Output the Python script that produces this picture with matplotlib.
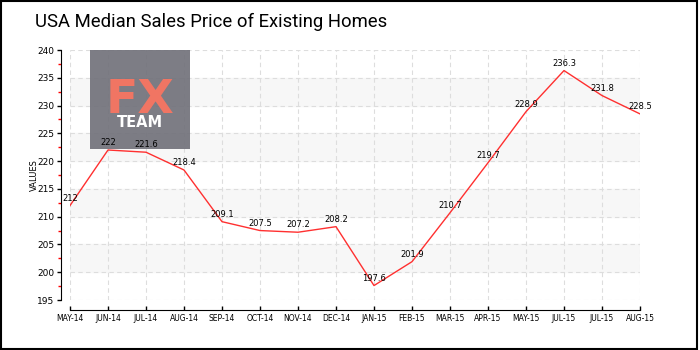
import matplotlib.pyplot as plt
import matplotlib.patches as patches
from matplotlib.ticker import MultipleLocator

# dados
meses = ["MAY-14", "JUN-14", "JUL-14", "AUG-14", "SEP-14", "OCT-14", "NOV-14", "DEC-14",
         "JAN-15", "FEB-15", "MAR-15", "APR-15", "MAY-15", "JUL-15", "JUL-15", "AUG-15"]
precos = [212, 222, 221.6, 218.4, 209.1, 207.5, 207.2, 208.2,
          197.6, 201.9, 210.7, 219.7, 228.9, 236.3, 231.8, 228.5]
faixas = [200, 210, 220, 230]

fig = plt.figure(figsize=(7, 3.5), dpi=100)
ax = fig.add_axes([70 / 700, 1 - 300 / 350, 570 / 700, 250 / 350])

x = list(range(len(meses)))

# faixas cinza claro
for f in faixas:
    ax.axhspan(f, f + 5, color='#f7f7f7', zorder=0)

ax.plot(x, precos, color='#ff3030', linewidth=1, zorder=3)
for xi, v in zip(x, precos):
    ax.annotate(f"{v:g}", (xi, v), xytext=(0, 2), textcoords='offset points',
                ha='center', va='bottom', fontsize=6, zorder=4)

ax.set_xlim(0, len(meses) - 1)
ax.set_ylim(195, 240)
ax.set_xticks(x)
ax.set_xticklabels(meses)
ax.yaxis.set_major_locator(MultipleLocator(5))
ax.yaxis.set_minor_locator(MultipleLocator(2.5))
ax.tick_params(axis='y', labelsize=6.5, length=3, width=1, pad=2)
ax.tick_params(axis='y', which='minor', length=2.5, color='red', width=1)
ax.tick_params(axis='x', labelsize=5.5, length=3, width=1, direction='in', pad=3)
ax.set_ylabel("VALUES", fontsize=6)
ax.yaxis.set_label_coords(-0.055, 0.5)

ax.grid(True, color='#dddddd', linestyle=(0, (4, 3)), linewidth=0.8)
ax.set_axisbelow(True)

ax.spines['top'].set_visible(False)
ax.spines['right'].set_visible(False)
ax.spines['left'].set_position(('outward', 6.5))
ax.spines['bottom'].set_position(('outward', 7))

# logo FX TEAM (semi transparente, atras da linha)
logo = patches.Rectangle((90 / 700, 1 - 149 / 350), 100 / 700, 99 / 350,
                         transform=fig.transFigure, facecolor='#6f6f78', alpha=0.9,
                         edgecolor='none', zorder=2, clip_on=False)
ax.add_patch(logo)
ax.text(140 / 700, 1 - 113 / 350, "FX", color='#f07563', fontsize=34,
        ha='center', va='baseline', fontweight='bold', transform=fig.transFigure, zorder=2.5)
ax.text(140 / 700, 1 - 127 / 350, "TEAM", color='white', fontsize=10.5,
        ha='center', va='baseline', fontweight='bold', transform=fig.transFigure, zorder=2.5)

# titulo
fig.text(35 / 700, 1 - 22 / 350, "USA Median Sales Price of Existing Homes",
         fontsize=13.3, ha='left', va='center', family=['Roboto', 'DejaVu Sans'])

# borda
borda = patches.Rectangle((0.002, 0.003), 0.994, 0.993, transform=fig.transFigure,
                          fill=False, edgecolor='black', linewidth=1.5)
fig.patches.append(borda)

fig.savefig("out.png", dpi=100)
